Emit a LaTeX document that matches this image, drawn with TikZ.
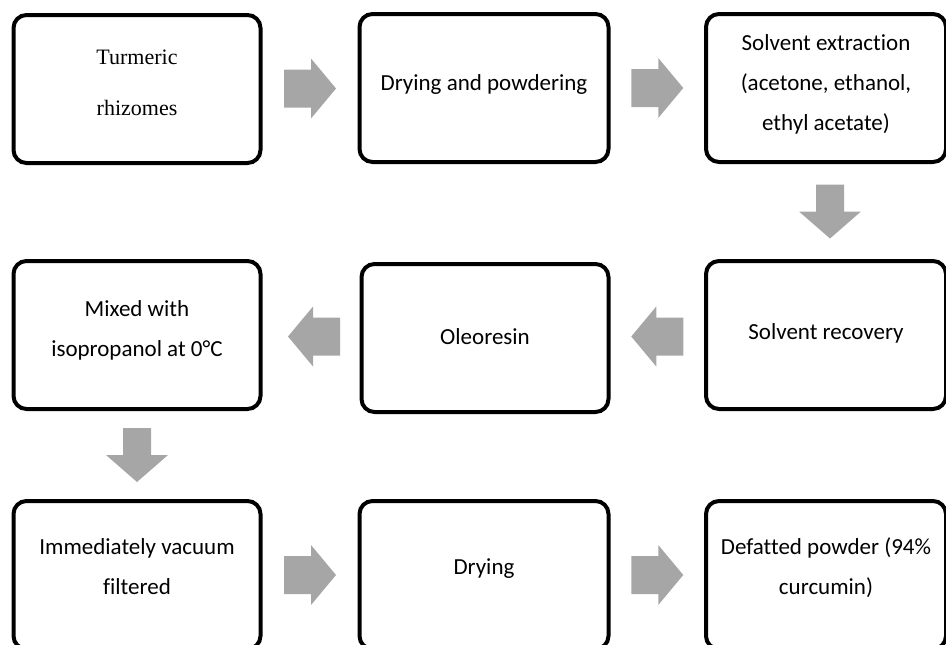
\documentclass[tikz,border=0pt]{standalone}
\usepackage{fontspec}
\setmainfont{Carlito}[Ligatures=NoCommon]
\newfontfamily\timesfont{Liberation Serif}
\usepackage{xcolor}
\usepackage{tikz}
\usetikzlibrary{calc}

\definecolor{arrowgray}{RGB}{166,166,166}

\tikzset{
  stepbox/.style={draw, line width=4pt, rounded corners=13pt,
    minimum width=247pt, minimum height=148pt, inner sep=0pt},
  narrowbox/.style={stepbox, minimum width=240pt},
  steptext/.style={align=center, font=\fontsize{23}{40}\selectfont, yshift=4pt},
  harrow/.pic={\fill[arrowgray] (-26,-19) -- (1,-19) -- (1,-30) -- (26,0)
    -- (1,30) -- (1,19) -- (-26,19) -- cycle;},
  varrow/.pic={\fill[arrowgray] (-14,-27) -- (14,-27) -- (14,0) -- (31,0)
    -- (0,27) -- (-31,0) -- (-14,0) -- cycle;}
}

\begin{document}
\begin{tikzpicture}[x=1pt,y=-1pt]
  \useasboundingbox (0,0) rectangle (946,645);
  % row 1
  \node[stepbox, label={[steptext, yshift=2.5pt, font=\timesfont\fontsize{22}{51}\selectfont]center:Turmeric\\rhizomes}] (turmeric) at (137,89) {};
  \node[stepbox, minimum width=249pt, label={[steptext]center:Drying and powdering}] (powder) at (484,88) {};
  \node[narrowbox, label={[steptext]center:Solvent extraction\\(acetone, ethanol,\\ethyl acetate)}] (extract) at (826,88) {};
  % row 2
  \node[stepbox, label={[steptext, yshift=0.5pt]center:Mixed with\\isopropanol at 0°C}] (mixed) at (137,335) {};
  \node[stepbox, label={[steptext, yshift=-3pt]center:Oleoresin}] (oleo) at (485,338) {};
  \node[narrowbox, label={[steptext, yshift=-2pt]center:Solvent recovery}] (recover) at (826,335) {};
  % row 3
  \node[stepbox, label={[steptext, yshift=4pt]center:Immediately vacuum\\filtered}] (filter) at (137,575) {};
  \node[stepbox, minimum width=249pt, label={[steptext, yshift=2pt]center:Drying}] (dry) at (484,575) {};
  \node[narrowbox, label={[steptext, yshift=3pt]center:Defatted powder (94\%\\curcumin)}] (defat) at (826,575) {};
  % arrows
  \pic at ($(turmeric.east)!0.5!(powder.west)$) {harrow};
  \pic at ($(powder.east)!0.5!(extract.west)$) {harrow};
  \pic at ($(extract.south)!0.5!(recover.north)+(4,0)$) {varrow};
  \pic[xscale=-1] at ($(recover.west)!0.5!(oleo.east)$) {harrow};
  \pic[xscale=-1] at ($(oleo.west)!0.5!(mixed.east)+(3,0)$) {harrow};
  \pic at ($(mixed.south)!0.5!(filter.north)$) {varrow};
  \pic at ($(filter.east)!0.5!(dry.west)$) {harrow};
  \pic at ($(dry.east)!0.5!(defat.west)$) {harrow};
\end{tikzpicture}
\end{document}
